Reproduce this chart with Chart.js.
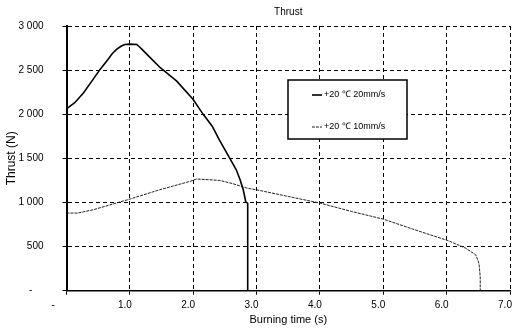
<!DOCTYPE html>
<html>
<head>
<meta charset="utf-8">
<script src="https://cdn.jsdelivr.net/npm/chart.js@4.4.0/dist/chart.umd.min.js"></script>
<style>
  html, body { margin: 0; padding: 0; background: #fff; }
  #thrustChart { display: block; }
</style>
</head>
<body>
<canvas id="thrustChart" width="513" height="330"></canvas>
<script>
const seriesLabels = ["+20 \u2103 20mm/s", "+20 \u2103 10mm/s"];

// +20 C, 20 mm/s
const time20 = [0, 0.13, 0.27, 0.4, 0.53, 0.66, 0.72, 0.79, 0.86, 0.92, 1.0, 1.11, 1.15, 1.2, 1.27, 1.48, 1.74, 2.0, 2.16, 2.3, 2.41, 2.58, 2.68, 2.74, 2.79, 2.83, 2.86, 2.86];
const thrust20 = [2060, 2130, 2243, 2375, 2508, 2625, 2685, 2735, 2770, 2790, 2795, 2790, 2765, 2730, 2678, 2527, 2375, 2167, 1996, 1864, 1712, 1497, 1370, 1258, 1144, 1005, 990, 0];

// +20 C, 10 mm/s
const time10 = [0, 0.18, 0.42, 1.0, 1.47, 1.95, 2.05, 2.42, 2.63, 2.84, 3.05, 3.5, 4.0, 4.5, 5.0, 5.5, 6.02, 6.3, 6.46, 6.51, 6.53, 6.53];
const thrust10 = [880, 880, 917, 1038, 1144, 1239, 1266, 1250, 1212, 1164, 1136, 1068, 993, 898, 811, 690, 568, 482, 406, 311, 160, 0];

const xMax = 7;
const yMax = 3000;
const yStep = 500;

const FONT = "'Liberation Sans', Arial, sans-serif";
const NARROW = "'Liberation Sans Narrow', 'Liberation Sans', Arial, sans-serif";

function toPoints(xs, ys) {
  return xs.map((x, i) => ({ x: x, y: ys[i] }));
}

// legend box sitting inside the plot
const boxLegend = {
  id: "boxLegend",
  afterDatasetsDraw(chart) {
    const ctx = chart.ctx;
    const bx = 288, by = 80, bw = 119, bh = 59;
    ctx.save();
    ctx.fillStyle = "#fff";
    ctx.fillRect(bx, by, bw, bh);
    ctx.strokeStyle = "#000";
    ctx.lineWidth = 1.5;
    ctx.strokeRect(bx, by, bw, bh);
    chart.data.datasets.forEach((ds, i) => {
      const rowY = by + 15 + i * 32;
      ctx.strokeStyle = ds.borderColor;
      ctx.lineWidth = ds.borderWidth;
      ctx.setLineDash(ds.borderDash || []);
      ctx.beginPath();
      ctx.moveTo(312, rowY);
      ctx.lineTo(322, rowY);
      ctx.stroke();
      ctx.setLineDash([]);
      ctx.fillStyle = "#000";
      ctx.font = "9px " + NARROW;
      ctx.textBaseline = "middle";
      ctx.fillText(ds.label, 324, rowY);
    });
    ctx.restore();
  }
};

const ctx = document.getElementById("thrustChart").getContext("2d");
new Chart(ctx, {
  type: "line",
  data: {
    datasets: [
      {
        label: seriesLabels[0],
        data: toPoints(time20, thrust20),
        borderColor: "#000",
        borderWidth: 1.6,
        pointRadius: 0,
        tension: 0,
        fill: false
      },
      {
        label: seriesLabels[1],
        data: toPoints(time10, thrust10),
        borderColor: "#222",
        borderWidth: 1,
        borderDash: [3, 1],
        pointRadius: 0,
        tension: 0,
        fill: false
      }
    ]
  },
  options: {
    responsive: false,
    animation: false,
    layout: { padding: { left: 0, right: 3, top: 0, bottom: 0 } },
    plugins: {
      legend: { display: false },
      tooltip: { enabled: false },
      title: {
        display: true,
        text: "Thrust",
        fullSize: false,
        color: "#000",
        font: { family: NARROW, size: 10, weight: "normal" },
        padding: { top: 6, bottom: 8 }
      }
    },
    scales: {
      x: {
        type: "linear",
        min: 0,
        max: xMax,
        ticks: {
          stepSize: 1,
          color: "#000",
          font: { family: FONT, size: 10 },
          padding: 5,
          labelOffset: -5,
          maxRotation: 0,
          callback: v => v === 0 ? "-      " : v.toFixed(1)
        },
        grid: { color: "#000", lineWidth: 1, tickLength: 4, tickColor: "#000", tickWidth: 1 },
        border: { display: true, color: "#000", width: 1.5, dash: [4, 3] },
        title: {
          display: true,
          text: "Burning time (s)",
          color: "#000",
          font: { family: FONT, size: 11 },
          padding: { top: 0, bottom: 3 }
        },
        afterFit: s => { s.height = 39.3; s.paddingLeft = 0; s.paddingRight = 0; }
      },
      y: {
        min: 0,
        max: yMax,
        ticks: {
          stepSize: yStep,
          color: "#000",
          font: { family: FONT, size: 10 },
          padding: 19,
          callback: v => v === 0 ? "-    " : (v >= 1000 ? Math.floor(v / 1000) + " " + String(v % 1000).padStart(3, "0") : String(v))
        },
        grid: { color: "#000", lineWidth: 1, tickLength: 4, tickColor: "#000", tickWidth: 1 },
        border: { display: true, color: "#000", width: 2, dash: [4, 3] },
        title: {
          display: true,
          text: "Thrust (N)",
          color: "#000",
          font: { family: FONT, size: 12 },
          padding: { top: 4, bottom: 0 }
        },
        afterFit: s => { s.width = 66.5; }
      }
    }
  },
  plugins: [boxLegend]
});
</script>
</body>
</html>
